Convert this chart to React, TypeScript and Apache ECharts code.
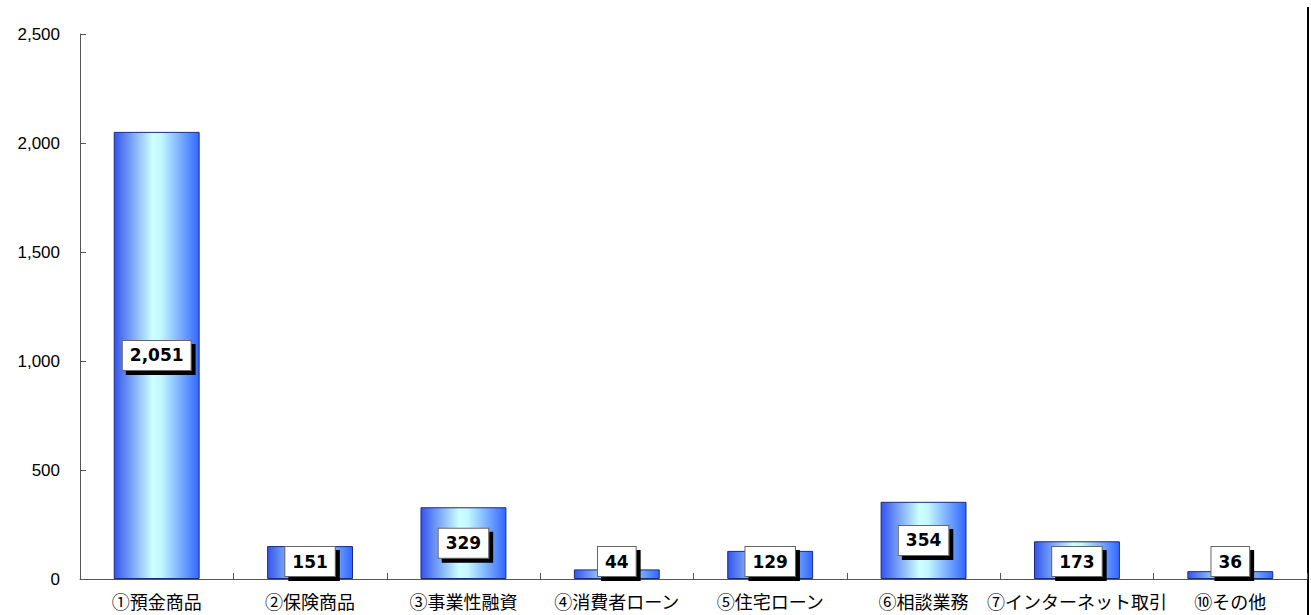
import React, { useEffect, useRef } from "react";
import * as echarts from "echarts";

const categories = [
  "①預金商品",
  "②保険商品",
  "③事業性融資",
  "④消費者ローン",
  "⑤住宅ローン",
  "⑥相談業務",
  "⑦インターネット取引",
  "⑩その他",
];
const values = [2051, 151, 329, 44, 129, 354, 173, 36];
const yTicks = { min: 0, max: 2500, interval: 500 };

export default function App() {
  const ref = useRef<HTMLDivElement>(null);
  useEffect(() => {
    if (!ref.current) return;
    const chart = echarts.init(ref.current, null, { renderer: "svg" });
    const barGradient = new echarts.graphic.LinearGradient(0, 0, 1, 0, [
      { offset: 0, color: "#3355ee" },
      { offset: 0.45, color: "#ccffff" },
      { offset: 0.55, color: "#c4f8ff" },
      { offset: 1, color: "#3366ff" },
    ]);
    const data = values.map((v) =>
      v < 200
        ? { value: v, label: { position: "insideBottom", distance: 3 } }
        : { value: v }
    );
    chart.setOption({
      animation: false,
      backgroundColor: "#ffffff",
      grid: { left: 80, right: 4, top: 34, bottom: 36 },
      xAxis: {
        type: "category",
        data: categories,
        axisLine: { lineStyle: { color: "#555555", width: 1 } },
        axisTick: { show: true, inside: true, length: 6, alignWithLabel: false, lineStyle: { color: "#555555" } },
        axisLabel: {
          interval: 0,
          margin: 13,
          color: "#000000",
          fontSize: 18,
          fontFamily: "Noto Sans CJK JP",
        },
      },
      yAxis: {
        type: "value",
        min: yTicks.min,
        max: yTicks.max,
        interval: yTicks.interval,
        splitLine: { show: false },
        axisLine: { show: true, lineStyle: { color: "#555555", width: 1 } },
        axisTick: { show: true, inside: true, length: 6, lineStyle: { color: "#555555" } },
        axisLabel: {
          margin: 20,
          color: "#000000",
          fontSize: 17,
          fontFamily: "Liberation Sans",
          formatter: (v: number) => v.toLocaleString("en-US"),
        },
      },
      series: [
        {
          type: "bar",
          data,
          barWidth: "56%",
          itemStyle: { color: barGradient, borderColor: "#1a2a80", borderWidth: 1 },
          label: {
            show: true,
            position: "inside",
            formatter: (p: any) => Number(p.value).toLocaleString("en-US"),
            color: "#000000",
            fontSize: 17,
            fontWeight: "bold",
            fontFamily: "DejaVu Sans",
            backgroundColor: "#ffffff",
            borderColor: "#666666",
            borderWidth: 1,
            padding: [6, 7, 6, 7],
            shadowColor: "#000000",
            shadowBlur: 0,
            shadowOffsetX: 4,
            shadowOffsetY: 4,
          },
        },
      ],
      graphic: [
        {
          type: "rect",
          left: 1307,
          top: 7,
          shape: { width: 2, height: 608 },
          style: { fill: "#000000" },
        },
      ],
    });
    return () => chart.dispose();
  }, []);
  return (
    <div
      ref={ref}
      style={{ position: "fixed", left: 0, top: 0, width: 1311, height: 615 }}
    />
  );
}
